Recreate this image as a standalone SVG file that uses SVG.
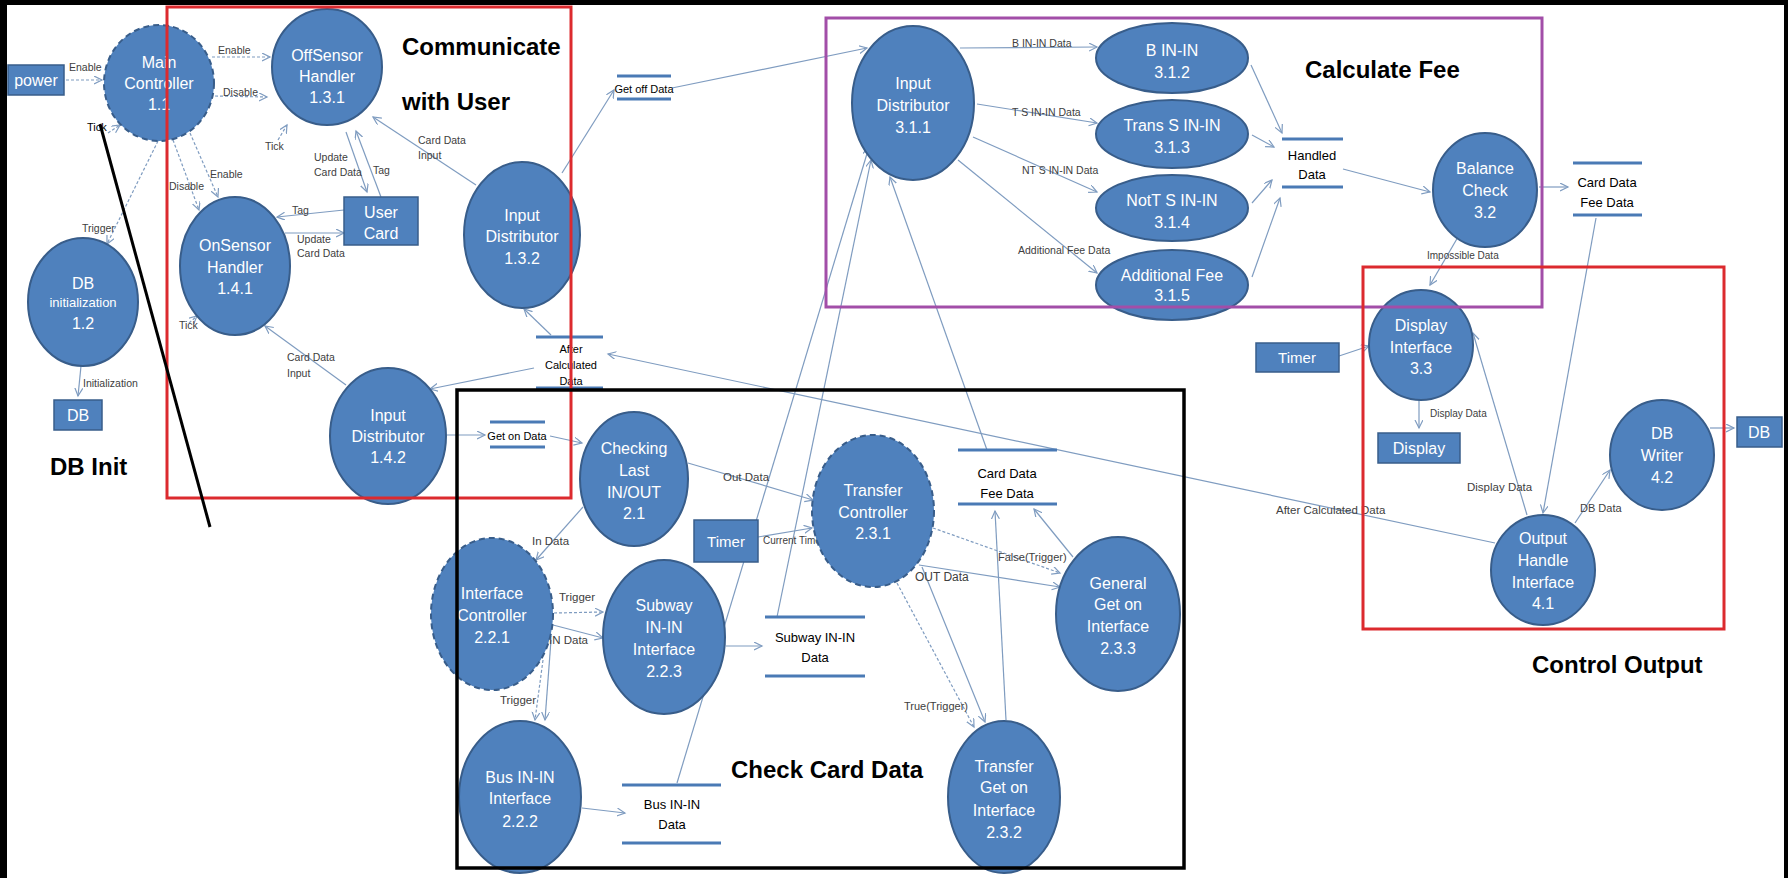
<svg xmlns="http://www.w3.org/2000/svg" width="1788" height="878" viewBox="0 0 1788 878">
<style>
.proc{fill:#4f81bd;stroke:#385d8a;stroke-width:2}
.dash{stroke-dasharray:6 4}
.box{fill:#4f81bd;stroke:#385d8a;stroke-width:1.5}
.n{fill:#fff;font-family:"Liberation Sans",Arial,sans-serif;font-size:16px;text-anchor:middle}
.st{fill:#000;font-family:"Liberation Sans",Arial,sans-serif;font-size:13px;text-anchor:middle}
.sl{stroke:#4a7ab5;stroke-width:3}
.lb{fill:#404040;font-family:"Liberation Sans",Arial,sans-serif;font-size:10.5px}
.ttl{fill:#000;font-family:"Liberation Sans",Arial,sans-serif;font-size:24px;font-weight:bold}
.c{fill:none;stroke:#7f9cc0;stroke-width:1.2;marker-end:url(#ah)}
.d{fill:none;stroke:#7f9cc0;stroke-width:1.2;stroke-dasharray:3 2;marker-end:url(#ah)}
</style>
<defs>
<marker id="ah" markerWidth="10" markerHeight="10" refX="8" refY="4" orient="auto" markerUnits="userSpaceOnUse">
<path d="M0,0 L8,4 L0,8" fill="none" stroke="#7f9cc0" stroke-width="1.2"/>
</marker>
</defs>
<rect x="0" y="0" width="1788" height="878" fill="#fff"/>

<g id="connectors">
<line class="d" x1="66" y1="80" x2="102" y2="80"/>
<line class="d" x1="212" y1="57" x2="270" y2="57"/>
<line class="d" x1="215" y1="96" x2="267" y2="97"/>
<line class="d" x1="108" y1="133" x2="120" y2="125"/>
<line class="d" x1="278" y1="140" x2="287" y2="125"/>
<line class="d" x1="173" y1="140" x2="199" y2="210"/>
<line class="d" x1="190" y1="133" x2="218" y2="197"/>
<line class="d" x1="158" y1="141" x2="107" y2="244"/>
<line class="d" x1="189" y1="323" x2="197" y2="316"/>
<line class="c" x1="81" y1="366" x2="78" y2="396"/>
<line class="c" x1="346" y1="132" x2="367" y2="192"/>
<line class="c" x1="381" y1="197" x2="356" y2="131"/>
<line class="c" x1="476" y1="185" x2="373" y2="117"/>
<line class="c" x1="344" y1="210" x2="277" y2="217"/>
<line class="c" x1="285" y1="233" x2="344" y2="233"/>
<line class="c" x1="346" y1="385" x2="265" y2="326"/>
<line class="c" x1="562" y1="173" x2="614" y2="90"/>
<line class="c" x1="672" y1="88" x2="867" y2="48"/>
<line class="c" x1="551" y1="335" x2="524" y2="309"/>
<line class="c" x1="534" y1="368" x2="430" y2="389"/>
<line class="c" x1="446" y1="435" x2="485" y2="435"/>
<line class="c" x1="550" y1="436" x2="582" y2="443"/>
<line class="c" x1="960" y1="48" x2="1097" y2="47"/>
<line class="c" x1="977" y1="104" x2="1097" y2="123"/>
<line class="c" x1="973" y1="137" x2="1097" y2="192"/>
<line class="c" x1="958" y1="160" x2="1097" y2="273"/>
<line class="c" x1="1251" y1="65" x2="1282" y2="133"/>
<line class="c" x1="1252" y1="135" x2="1274" y2="147"/>
<line class="c" x1="1252" y1="203" x2="1272" y2="180"/>
<line class="c" x1="1252" y1="277" x2="1280" y2="198"/>
<line class="c" x1="1343" y1="169" x2="1430" y2="192"/>
<line class="c" x1="1539" y1="187" x2="1568" y2="187"/>
<line class="c" x1="1458" y1="237" x2="1430" y2="285"/>
<line class="c" x1="1339" y1="356" x2="1369" y2="346"/>
<line class="c" x1="1419" y1="399" x2="1419" y2="428"/>
<line class="c" x1="1527" y1="515" x2="1473" y2="333"/>
<line class="c" x1="1596" y1="218" x2="1543" y2="513"/>
<line class="c" x1="1575" y1="523" x2="1610" y2="470"/>
<line class="c" x1="1710" y1="428" x2="1734" y2="428"/>
<line class="c" x1="1495" y1="543" x2="608" y2="354"/>
<line class="c" x1="688" y1="463" x2="813" y2="500"/>
<line class="c" x1="758" y1="537" x2="812" y2="528"/>
<line class="c" x1="583" y1="507" x2="536" y2="560"/>
<line class="d" x1="554" y1="613" x2="603" y2="612"/>
<line class="c" x1="553" y1="625" x2="603" y2="638"/>
<line class="d" x1="543" y1="660" x2="535" y2="720"/>
<line class="c" x1="551" y1="640" x2="545" y2="720"/>
<line class="c" x1="726" y1="646" x2="762" y2="646"/>
<line class="c" x1="582" y1="808" x2="625" y2="813"/>
<line class="c" x1="777" y1="617" x2="871" y2="160"/>
<line class="c" x1="677" y1="783" x2="869" y2="147"/>
<line class="c" x1="987" y1="450" x2="890" y2="177"/>
<line class="c" x1="919" y1="565" x2="1060" y2="587"/>
<line class="d" x1="933" y1="528" x2="1060" y2="573"/>
<line class="d" x1="897" y1="583" x2="974" y2="727"/>
<line class="c" x1="922" y1="567" x2="985" y2="722"/>
<line class="c" x1="1073" y1="557" x2="1034" y2="509"/>
<line class="c" x1="1006" y1="720" x2="995" y2="511"/>

<text class="lb" x="69" y="71">Enable</text>
<text class="lb" x="218" y="54">Enable</text>
<text class="lb" x="223" y="96">Disable</text>
<text class="lb" x="87" y="131" style="fill:#000;font-size:11px">Tick</text>
<text class="lb" x="265" y="150">Tick</text>
<text class="lb" x="169" y="190">Disable</text>
<text class="lb" x="210" y="178">Enable</text>
<text class="lb" x="82" y="232">Trigger</text>
<text class="lb" x="83" y="387">Initialization</text>
<text class="lb" x="314" y="161">Update</text>
<text class="lb" x="314" y="176">Card Data</text>
<text class="lb" x="373" y="174">Tag</text>
<text class="lb" x="418" y="144">Card Data</text>
<text class="lb" x="418" y="159">Input</text>
<text class="lb" x="292" y="214">Tag</text>
<text class="lb" x="297" y="243">Update</text>
<text class="lb" x="297" y="257">Card Data</text>
<text class="lb" x="179" y="329">Tick</text>
<text class="lb" x="287" y="361">Card Data</text>
<text class="lb" x="287" y="377">Input</text>
<text class="lb" x="1012" y="47">B IN-IN Data</text>
<text class="lb" x="1012" y="116">T S IN-IN Data</text>
<text class="lb" x="1022" y="174">NT S IN-IN Data</text>
<text class="lb" x="1018" y="254">Additional Fee Data</text>
<text class="lb" x="1427" y="259" style="font-size:10px">Impossible Data</text>
<text class="lb" x="1430" y="417" style="font-size:10px">Display Data</text>
<text class="lb" x="1467" y="491" style="font-size:11.5px">Display Data</text>
<text class="lb" x="1580" y="512" style="font-size:11px">DB Data</text>
<text class="lb" x="1276" y="514" style="font-size:11.5px">After Calculated Data</text>
<text class="lb" x="723" y="481" style="font-size:11.5px">Out Data</text>
<text class="lb" x="763" y="544" style="font-size:10px">Current Time</text>
<text class="lb" x="532" y="545" style="font-size:11.5px">In Data</text>
<text class="lb" x="559" y="601" style="font-size:11.5px">Trigger</text>
<text class="lb" x="549" y="644" style="font-size:11.5px">IN Data</text>
<text class="lb" x="500" y="704" style="font-size:11.5px">Trigger</text>
<text class="lb" x="915" y="581" style="font-size:12px">OUT Data</text>
<text class="lb" x="998" y="561" style="font-size:11px">False(Trigger)</text>
<text class="lb" x="904" y="710" style="font-size:11px">True(Trigger)</text>
</g>

<g id="power"><rect class="box" x="8" y="65" width="56" height="30"/><text class="n" x="36" y="86">power</text></g>
<g id="main-controller"><ellipse class="proc dash" cx="159" cy="83" rx="55" ry="58"/><text class="n"><tspan x="159" y="68">Main</tspan><tspan x="159" y="89">Controller</tspan><tspan x="159" y="110">1.1</tspan></text></g>
<g id="db-initialization"><ellipse class="proc" cx="83" cy="302" rx="55" ry="64"/><text class="n"><tspan x="83" y="289">DB</tspan><tspan x="83" y="307" style="font-size:13px">initialization</tspan><tspan x="83" y="329">1.2</tspan></text></g>
<g id="db-left"><rect class="box" x="54" y="400" width="48" height="30"/><text class="n" x="78" y="421">DB</text></g>
<g id="offsensor"><ellipse class="proc" cx="327" cy="67" rx="55" ry="58"/><text class="n"><tspan x="327" y="61">OffSensor</tspan><tspan x="327" y="82">Handler</tspan><tspan x="327" y="103">1.3.1</tspan></text></g>
<g id="onsensor"><ellipse class="proc" cx="235" cy="266" rx="55" ry="69"/><text class="n"><tspan x="235" y="251">OnSensor</tspan><tspan x="235" y="273">Handler</tspan><tspan x="235" y="294">1.4.1</tspan></text></g>
<g id="user-card"><rect class="box" x="344" y="197" width="74" height="48"/><text class="n"><tspan x="381" y="218">User</tspan><tspan x="381" y="239">Card</tspan></text></g>
<g id="input-distributor-132"><ellipse class="proc" cx="522" cy="235" rx="58" ry="73"/><text class="n"><tspan x="522" y="221">Input</tspan><tspan x="522" y="242">Distributor</tspan><tspan x="522" y="264">1.3.2</tspan></text></g>
<g id="input-distributor-142"><ellipse class="proc" cx="388" cy="436" rx="58" ry="68"/><text class="n"><tspan x="388" y="421">Input</tspan><tspan x="388" y="442">Distributor</tspan><tspan x="388" y="463">1.4.2</tspan></text></g>
<g id="store-get-off"><line class="sl" x1="617" y1="76" x2="671" y2="76"/><line class="sl" x1="617" y1="99" x2="671" y2="99"/><text class="st" x="644" y="93" style="font-size:11px">Get off Data</text></g>
<g id="store-after-calc"><line class="sl" x1="536" y1="337" x2="603" y2="337"/><line class="sl" x1="536" y1="388" x2="603" y2="388"/><text class="st" style="font-size:11px"><tspan x="571" y="353">After</tspan><tspan x="571" y="369">Calculated</tspan><tspan x="571" y="385">Data</tspan></text></g>
<g id="store-get-on"><line class="sl" x1="490" y1="422" x2="545" y2="422"/><line class="sl" x1="490" y1="447" x2="545" y2="447"/><text class="st" x="517" y="440" style="font-size:11px">Get on Data</text></g>
<g id="input-distributor-311"><ellipse class="proc" cx="913" cy="103" rx="61" ry="77"/><text class="n"><tspan x="913" y="89">Input</tspan><tspan x="913" y="111">Distributor</tspan><tspan x="913" y="133">3.1.1</tspan></text></g>
<g id="b-in-in"><ellipse class="proc" cx="1172" cy="58" rx="76" ry="35"/><text class="n"><tspan x="1172" y="56">B IN-IN</tspan><tspan x="1172" y="78">3.1.2</tspan></text></g>
<g id="trans-s-in-in"><ellipse class="proc" cx="1172" cy="134" rx="76" ry="34"/><text class="n"><tspan x="1172" y="131">Trans S IN-IN</tspan><tspan x="1172" y="153">3.1.3</tspan></text></g>
<g id="nott-s-in-in"><ellipse class="proc" cx="1172" cy="208" rx="76" ry="33"/><text class="n"><tspan x="1172" y="206">NotT S IN-IN</tspan><tspan x="1172" y="228">3.1.4</tspan></text></g>
<g id="additional-fee"><ellipse class="proc" cx="1172" cy="285" rx="76" ry="35"/><text class="n"><tspan x="1172" y="281">Additional Fee</tspan><tspan x="1172" y="301">3.1.5</tspan></text></g>
<g id="store-handled"><line class="sl" x1="1282" y1="139" x2="1343" y2="139"/><line class="sl" x1="1282" y1="187" x2="1343" y2="187"/><text class="st"><tspan x="1312" y="160">Handled</tspan><tspan x="1312" y="179">Data</tspan></text></g>
<g id="balance-check"><ellipse class="proc" cx="1485" cy="190" rx="52" ry="57"/><text class="n"><tspan x="1485" y="174">Balance</tspan><tspan x="1485" y="196">Check</tspan><tspan x="1485" y="218">3.2</tspan></text></g>
<g id="store-card-fee-top"><line class="sl" x1="1573" y1="163" x2="1642" y2="163"/><line class="sl" x1="1573" y1="215" x2="1642" y2="215"/><text class="st"><tspan x="1607" y="187">Card Data</tspan><tspan x="1607" y="207">Fee Data</tspan></text></g>
<g id="timer-right"><rect class="box" x="1256" y="343" width="83" height="29"/><text class="n" x="1297" y="363" style="font-size:15px">Timer</text></g>
<g id="display-interface"><ellipse class="proc" cx="1421" cy="345" rx="52" ry="55"/><text class="n"><tspan x="1421" y="331">Display</tspan><tspan x="1421" y="353">Interface</tspan><tspan x="1421" y="374">3.3</tspan></text></g>
<g id="display"><rect class="box" x="1378" y="433" width="82" height="30"/><text class="n" x="1419" y="454">Display</text></g>
<g id="db-writer"><ellipse class="proc" cx="1662" cy="455" rx="52" ry="55"/><text class="n"><tspan x="1662" y="439">DB</tspan><tspan x="1662" y="461">Writer</tspan><tspan x="1662" y="483">4.2</tspan></text></g>
<g id="db-right"><rect class="box" x="1737" y="417" width="45" height="30"/><text class="n" x="1759" y="438">DB</text></g>
<g id="output-handle"><ellipse class="proc" cx="1543" cy="570" rx="52" ry="55"/><text class="n"><tspan x="1543" y="544">Output</tspan><tspan x="1543" y="566">Handle</tspan><tspan x="1543" y="588">Interface</tspan><tspan x="1543" y="609">4.1</tspan></text></g>
<g id="checking-last"><ellipse class="proc" cx="634" cy="479" rx="54" ry="67"/><text class="n"><tspan x="634" y="454">Checking</tspan><tspan x="634" y="476">Last</tspan><tspan x="634" y="498">IN/OUT</tspan><tspan x="634" y="519">2.1</tspan></text></g>
<g id="timer-mid"><rect class="box" x="694" y="520" width="64" height="42"/><text class="n" x="726" y="547" style="font-size:15px">Timer</text></g>
<g id="transfer-controller"><ellipse class="proc dash" cx="873" cy="511" rx="61" ry="76"/><text class="n"><tspan x="873" y="496">Transfer</tspan><tspan x="873" y="518">Controller</tspan><tspan x="873" y="539">2.3.1</tspan></text></g>
<g id="store-card-fee-mid"><line class="sl" x1="958" y1="450" x2="1057" y2="450"/><line class="sl" x1="958" y1="504" x2="1057" y2="504"/><text class="st"><tspan x="1007" y="478">Card Data</tspan><tspan x="1007" y="498">Fee Data</tspan></text></g>
<g id="interface-controller"><ellipse class="proc dash" cx="492" cy="614" rx="61" ry="76"/><text class="n"><tspan x="492" y="599">Interface</tspan><tspan x="492" y="621">Controller</tspan><tspan x="492" y="643">2.2.1</tspan></text></g>
<g id="subway-in-in"><ellipse class="proc" cx="664" cy="637" rx="61" ry="77"/><text class="n"><tspan x="664" y="611">Subway</tspan><tspan x="664" y="633">IN-IN</tspan><tspan x="664" y="655">Interface</tspan><tspan x="664" y="677">2.2.3</tspan></text></g>
<g id="store-subway"><line class="sl" x1="765" y1="617" x2="865" y2="617"/><line class="sl" x1="765" y1="676" x2="865" y2="676"/><text class="st"><tspan x="815" y="642">Subway IN-IN</tspan><tspan x="815" y="662">Data</tspan></text></g>
<g id="bus-in-in"><ellipse class="proc" cx="520" cy="797" rx="61" ry="76"/><text class="n"><tspan x="520" y="783">Bus IN-IN</tspan><tspan x="520" y="804">Interface</tspan><tspan x="520" y="827">2.2.2</tspan></text></g>
<g id="store-bus"><line class="sl" x1="622" y1="785" x2="721" y2="785"/><line class="sl" x1="622" y1="843" x2="721" y2="843"/><text class="st"><tspan x="672" y="809">Bus IN-IN</tspan><tspan x="672" y="829">Data</tspan></text></g>
<g id="general-get-on"><ellipse class="proc" cx="1118" cy="614" rx="62" ry="77"/><text class="n"><tspan x="1118" y="589">General</tspan><tspan x="1118" y="610">Get on</tspan><tspan x="1118" y="632">Interface</tspan><tspan x="1118" y="654">2.3.3</tspan></text></g>
<g id="transfer-get-on"><ellipse class="proc" cx="1004" cy="797" rx="56" ry="76"/><text class="n"><tspan x="1004" y="772">Transfer</tspan><tspan x="1004" y="793">Get on</tspan><tspan x="1004" y="816">Interface</tspan><tspan x="1004" y="838">2.3.2</tspan></text></g>

<g id="groups" fill="none">
<rect x="167" y="7" width="404" height="491" stroke="#dc2a2e" stroke-width="3"/>
<rect x="826" y="18" width="716" height="289" stroke="#a24ea8" stroke-width="3"/>
<rect x="457" y="390" width="727" height="478" stroke="#000" stroke-width="3.5"/>
<rect x="1363" y="267" width="361" height="362" stroke="#dc2a2e" stroke-width="3"/>
<line x1="100" y1="124" x2="210" y2="527" stroke="#000" stroke-width="3"/>
<text class="ttl" x="402" y="55">Communicate</text>
<text class="ttl" x="402" y="110">with User</text>
<text class="ttl" x="1305" y="78">Calculate Fee</text>
<text class="ttl" x="731" y="778">Check Card Data</text>
<text class="ttl" x="1532" y="673">Control Output</text>
<text class="ttl" x="50" y="475">DB Init</text>
</g>

<rect x="0" y="0" width="7" height="878" fill="#000"/>
<rect x="0" y="0" width="1788" height="5" fill="#000"/>
<rect x="1784" y="0" width="4" height="878" fill="#000"/>
</svg>
